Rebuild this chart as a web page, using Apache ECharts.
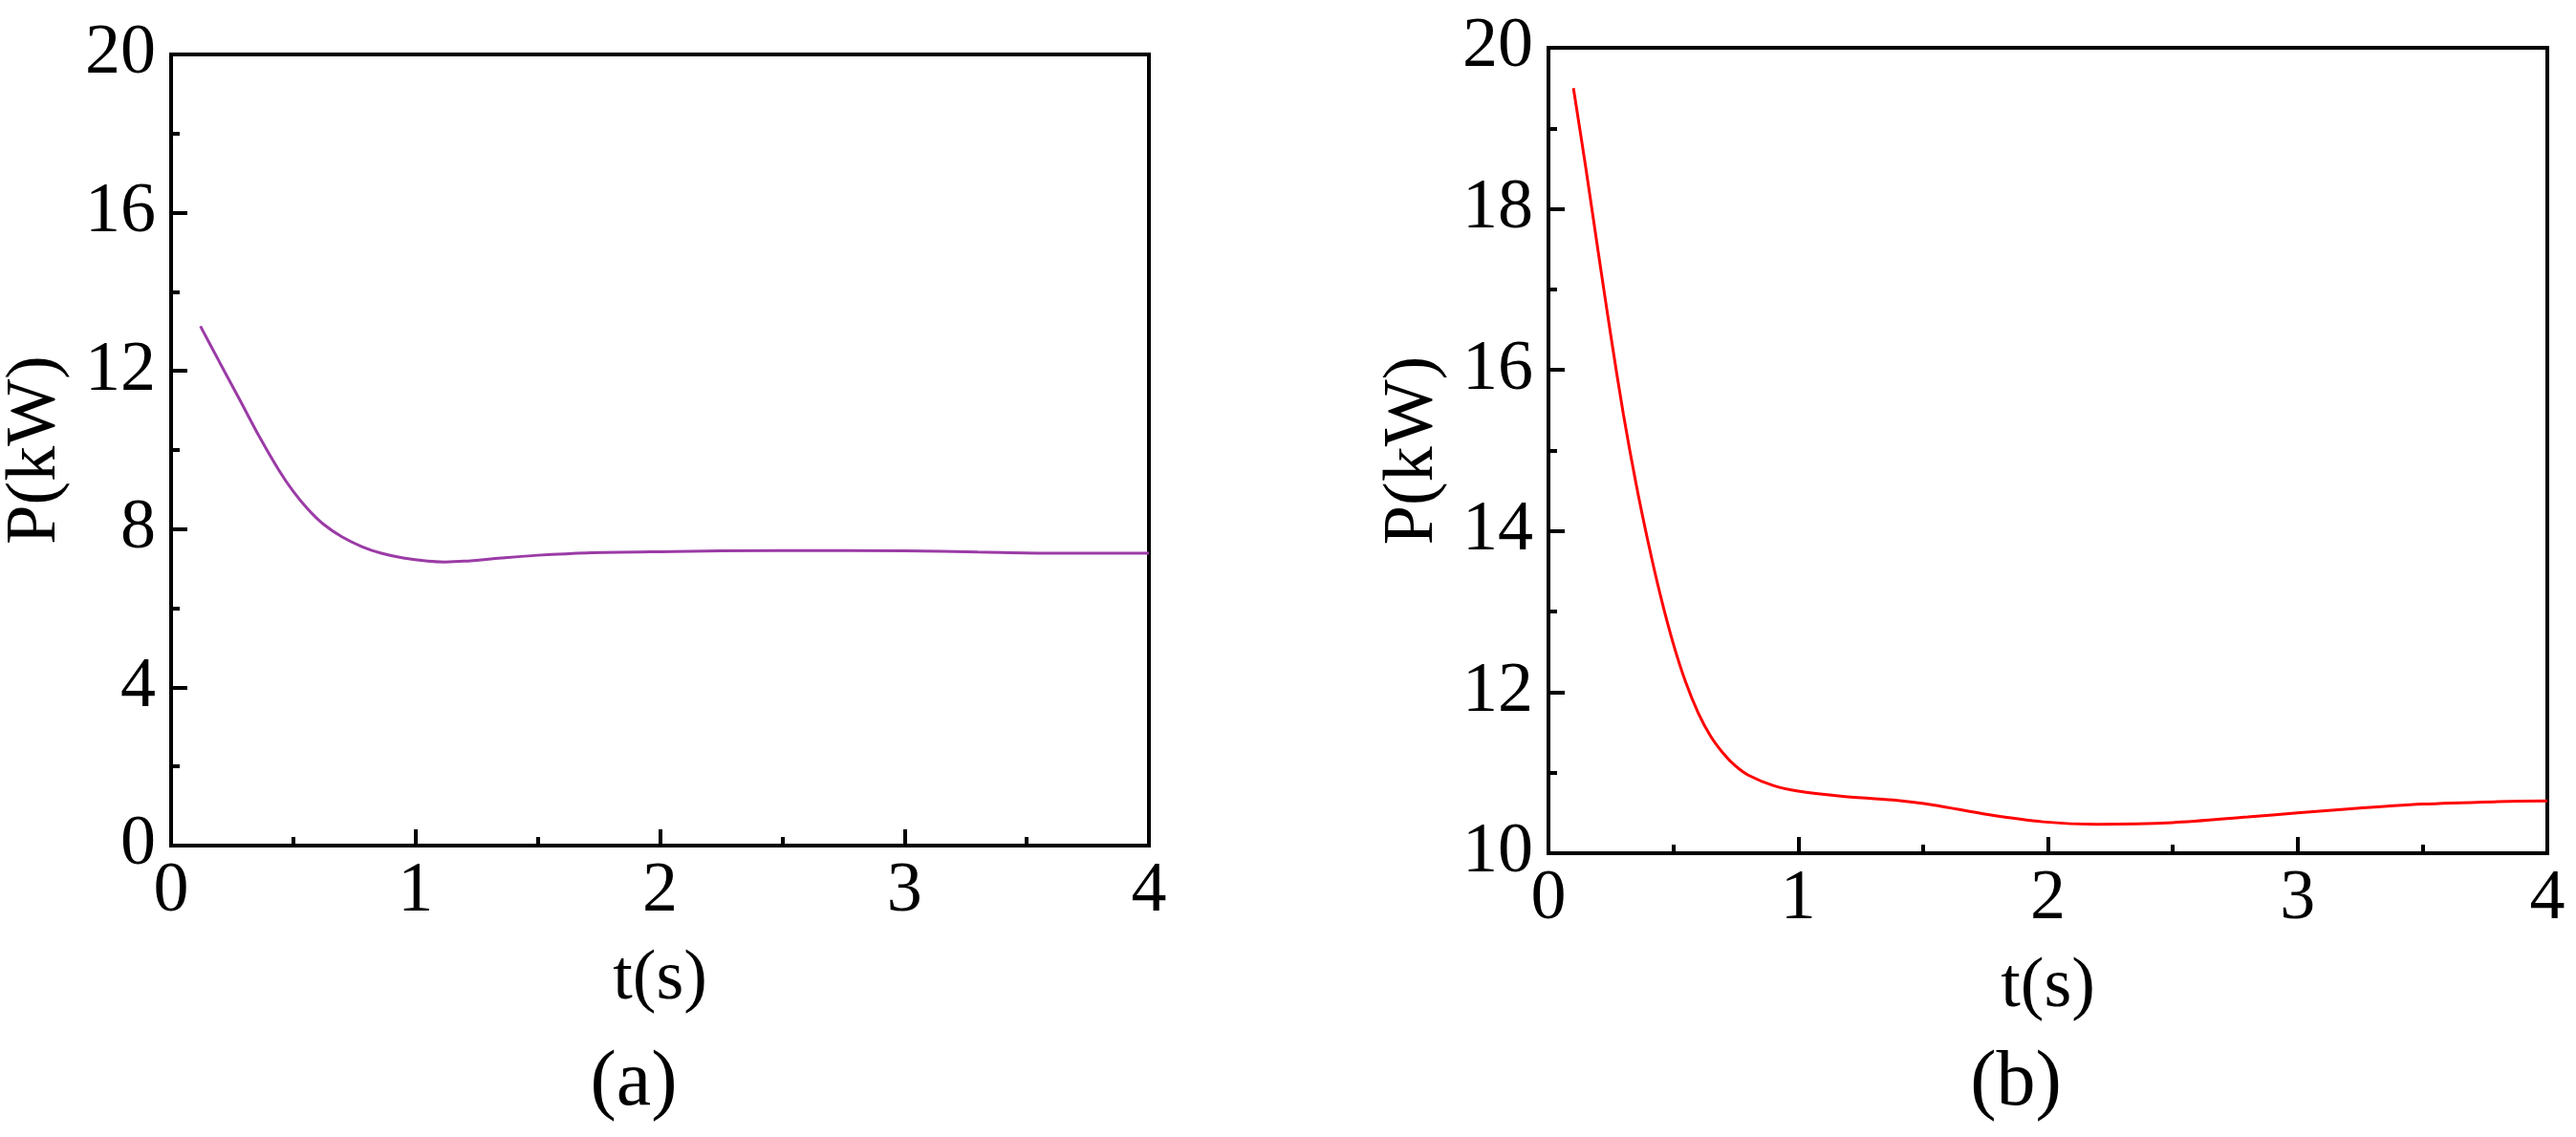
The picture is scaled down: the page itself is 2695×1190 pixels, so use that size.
<!DOCTYPE html>
<html>
<head>
<meta charset="utf-8">
<script src="https://cdn.jsdelivr.net/npm/echarts@6/dist/echarts.min.js"></script>
<style>
html,body{margin:0;padding:0;background:#fff;}
#chart{width:2695px;height:1190px;}
</style>
</head>
<body>
<div id="chart"></div>
<script>
// Panel (a)
var tA = [0.12,0.2,0.28,0.36,0.44,0.5,0.56,0.62,0.7,0.78,0.86,0.95,1.05,1.12,1.2,1.35,1.5,1.7,2.0,2.5,3.0,3.3,3.6,4.0];
var pA = [13.13,12.2,11.28,10.35,9.5,8.95,8.5,8.14,7.8,7.56,7.39,7.27,7.19,7.17,7.19,7.27,7.34,7.4,7.43,7.46,7.45,7.42,7.39,7.39];
// Panel (b)
var tB = [0.10,0.15,0.2,0.25,0.3,0.35,0.4,0.45,0.5,0.55,0.6,0.65,0.7,0.75,0.8,0.9,1.0,1.17,1.38,1.54,1.76,1.98,2.2,2.5,2.8,3.0,3.2,3.5,3.8,4.0];
var pB = [19.5,18.5,17.45,16.42,15.45,14.6,13.85,13.18,12.6,12.12,11.74,11.45,11.24,11.08,10.97,10.84,10.77,10.71,10.66,10.60,10.48,10.39,10.36,10.38,10.45,10.50,10.55,10.61,10.64,10.65];
var xTitle = 't(s)';
var yTitle = 'P(kW)';
var panelLabels = ['(a)', '(b)'];

var FONT = "'Liberation Serif','Times New Roman',serif";
var FS = 74;
function pairs(t, p){ return t.map(function(v,i){ return [v, p[i]]; }); }

function xAxisCfg(gi){
  return {
    type:'value', gridIndex:gi, min:0, max:4, interval:1,
    name:xTitle, nameLocation:'middle', nameGap:104,
    nameTextStyle:{fontFamily:FONT, fontSize:FS, color:'#000'},
    axisLine:{show:true, onZero:false, lineStyle:{color:'#000', width:4}},
    axisTick:{show:true, inside:true, length:17, lineStyle:{color:'#000', width:4}},
    minorTick:{show:true, splitNumber:2, length:9, lineStyle:{color:'#000', width:4}},
    axisLabel:{fontFamily:FONT, fontSize:FS, color:'#000', margin:12},
    splitLine:{show:false}
  };
}
function yAxisCfg(gi, min, max, interval){
  return {
    type:'value', gridIndex:gi, min:min, max:max, interval:interval,
    name:yTitle, nameLocation:'middle', nameGap:104,
    nameTextStyle:{fontFamily:FONT, fontSize:FS, color:'#000'},
    axisLine:{show:true, onZero:false, lineStyle:{color:'#000', width:4}},
    axisTick:{show:true, inside:true, length:17, lineStyle:{color:'#000', width:4}},
    minorTick:{show:true, splitNumber:2, length:9, lineStyle:{color:'#000', width:4}},
    axisLabel:{fontFamily:FONT, fontSize:FS, color:'#000', margin:16},
    splitLine:{show:false}
  };
}

var chart = echarts.init(document.getElementById('chart'));
chart.setOption({
  backgroundColor:'#fff',
  animation:false,
  grid:[
    {left:173, top:57, width:1029, height:828, show:true, borderColor:'#000', borderWidth:4, backgroundColor:'transparent'},
    {left:1620, top:50, width:1045, height:843, show:true, borderColor:'#000', borderWidth:4, backgroundColor:'transparent'}
  ],
  xAxis:[xAxisCfg(0), xAxisCfg(1)],
  yAxis:[yAxisCfg(0,0,20,4), yAxisCfg(1,10,20,2)],
  series:[
    {type:'line', xAxisIndex:0, yAxisIndex:0, data:pairs(tA,pA), smooth:0.3, showSymbol:false,
     lineStyle:{color:'#9b3ba6', width:3}},
    {type:'line', xAxisIndex:1, yAxisIndex:1, data:pairs(tB,pB), smooth:0.3, showSymbol:false,
     lineStyle:{color:'#ff0000', width:3}}
  ],
  graphic:[
    {type:'text', x:663, y:1134, style:{text:panelLabels[0], font:"82px "+FONT, fill:'#000', textAlign:'center', textVerticalAlign:'middle'}},
    {type:'text', x:2109, y:1134, style:{text:panelLabels[1], font:"82px "+FONT, fill:'#000', textAlign:'center', textVerticalAlign:'middle'}}
  ]
});
</script>
</body>
</html>
